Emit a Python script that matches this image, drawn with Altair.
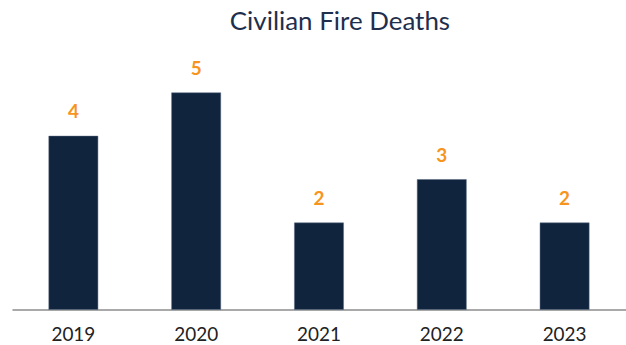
import altair as alt
import pandas as pd

years = ["2019", "2020", "2021", "2022", "2023"]
deaths = [4, 5, 2, 3, 2]

df = pd.DataFrame({"year": years, "deaths": deaths})

base = alt.Chart(df).encode(
    x=alt.X("year:N", sort=years,
            scale=alt.Scale(paddingInner=0.6, paddingOuter=0.3),
            axis=alt.Axis(title=None, labelAngle=0, labelFont="Lato", labelFontSize=19,
                          labelColor="#222222", labelPadding=16, ticks=False,
                          domainColor="#8c8c8c", domainWidth=1.5, grid=False)),
    y=alt.Y("deaths:Q", scale=alt.Scale(domain=[0, 6], nice=False), axis=None),
)

bars = base.mark_bar(color="#11243e", stroke="#5a6a80", strokeWidth=0.5)
labels = base.mark_text(dy=-24, font="Lato", fontSize=19, fontWeight="bold",
                        color="#f7941d").encode(text="deaths:Q")

chart = (bars + labels).properties(
    width=616, height=261,
    title=alt.TitleParams("Civilian Fire Deaths", font="Lato", fontSize=26,
                          fontWeight="normal", color="#1e2f4d", anchor="middle",
                          offset=14, dx=21),
    padding={"left": 12, "top": 49, "right": 0, "bottom": 35},
    autosize=alt.AutoSizeParams(type="none"),
).configure(background="white").configure_view(strokeWidth=0, stroke=None)

chart.save("out.html", embed_options={"renderer": "svg", "actions": False})
